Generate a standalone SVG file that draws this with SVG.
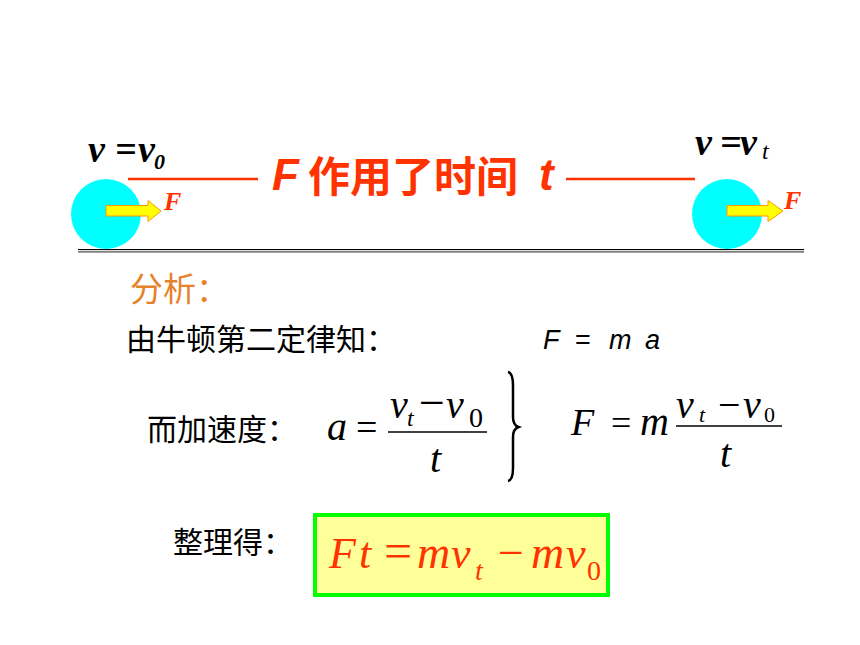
<svg xmlns="http://www.w3.org/2000/svg" width="860" height="645" viewBox="0 0 860 645">
<style>
.cjk{font-family:"Noto Sans CJK SC","Noto Sans CJK JP",sans-serif;fill:#000}
.math{font-family:"Liberation Serif","Times New Roman",serif;font-style:italic;fill:#000}
.rom{font-family:"Liberation Serif","Times New Roman",serif;font-style:normal}
.vlab{font-family:"Liberation Serif","Times New Roman",serif;font-style:italic;font-weight:bold;fill:#000}
.flab{font-family:"Liberation Serif","Times New Roman",serif;font-style:italic;font-weight:bold;fill:#ff3300;font-size:26px}
.ball{fill:#00ffff}
.arrow{fill:#ffff00;stroke:#ff9900;stroke-width:1}
.red{stroke:#ff3300;stroke-width:2.5}
.frac{stroke:#000;stroke-width:1.5}
</style>
<rect width="860" height="645" fill="#fff"/>

<g id="ground">
<line x1="78" y1="249.5" x2="804" y2="249.5" stroke="#000" stroke-width="1"/>
<line x1="78" y1="251.7" x2="804" y2="251.7" stroke="#808080" stroke-width="2"/>
</g>

<g id="ball-left">
<circle class="ball" cx="106" cy="214" r="35"/>
<path class="arrow" d="M106,205.5 H148 V200.5 L161,211 L148,221.5 V216 H106 Z"/>
<text class="flab" x="164" y="210">F</text>
<text class="vlab" x="88" y="162" font-size="38">v</text>
<text class="vlab" x="115" y="162" font-size="38">=</text>
<text class="vlab" x="138" y="162" font-size="38">v</text>
<text class="vlab" x="154" y="169" font-size="22">0</text>
</g>

<g id="ball-right">
<circle class="ball" cx="727" cy="214" r="35"/>
<path class="arrow" d="M727,205.5 H768 V200.5 L783,211 L768,221.5 V216 H727 Z"/>
<text class="flab" x="784" y="209">F</text>
<text class="vlab" x="695" y="155" font-size="38">v</text>
<text class="vlab" x="720" y="155" font-size="38">=</text>
<text class="vlab" x="740" y="155" font-size="38">v</text>
<text class="math" x="762" y="159" font-size="24">t</text>
</g>

<g id="connectors">
<line class="red" x1="128" y1="179" x2="258" y2="179"/>
<line class="red" x1="566" y1="179" x2="695" y2="179"/>
</g>

<g id="title" fill="#ff3300" font-weight="bold">
<text x="272" y="190" font-family="Liberation Sans,Arial,sans-serif" font-style="italic" font-size="44">F</text>
<text x="308" y="192" font-family="Noto Sans CJK SC,Noto Sans CJK JP,sans-serif" font-size="42">作用了时间</text>
<text x="539" y="190" font-family="Liberation Sans,Arial,sans-serif" font-style="italic" font-size="44">t</text>
</g>

<g id="analysis">
<text class="cjk" x="130" y="301" font-size="33" style="fill:#e6822a">分析：</text>
<text class="cjk" x="126" y="350" font-size="30">由牛顿第二定律知：</text>
<g font-family="Liberation Sans,Arial,sans-serif" font-style="italic" font-size="27" fill="#000">
<text x="543" y="349">F</text>
<text x="575" y="349" font-style="normal">=</text>
<text x="609" y="349">m</text>
<text x="645" y="349">a</text>
</g>
</g>

<g id="accel">
<text class="cjk" x="147" y="440" font-size="30">而加速度：</text>
<text class="math" x="327" y="440" font-size="40">a</text>
<text class="math rom" x="356" y="440" font-size="38">=</text>
<line class="frac" x1="388" y1="432" x2="487" y2="432"/>
<text class="math" x="390" y="418" font-size="40">v</text>
<text class="math" x="407" y="426" font-size="24">t</text>
<text class="math rom" x="419" y="418" font-size="46">−</text>
<text class="math" x="446" y="418" font-size="40">v</text>
<text class="math rom" x="469" y="427" font-size="28">0</text>
<text class="math" x="430" y="472" font-size="40">t</text>
<path d="M508,372 Q513,373 513,386 L513,417 Q513,425 518.5,427 Q513,429 513,437 L513,468 Q513,480 508,481" fill="none" stroke="#000" stroke-width="2.5"/>
</g>

<g id="newton">
<text class="math" x="571" y="435" font-size="38">F</text>
<text class="math rom" x="611" y="435" font-size="36">=</text>
<text class="math" x="640" y="435" font-size="40">m</text>
<line class="frac" x1="676" y1="426" x2="782" y2="426"/>
<text class="math" x="676" y="418" font-size="40">v</text>
<text class="math" x="699" y="422" font-size="22">t</text>
<text class="math rom" x="718" y="418" font-size="40">−</text>
<text class="math" x="743" y="418" font-size="40">v</text>
<text class="math rom" x="764" y="422" font-size="22">0</text>
<text class="math" x="720" y="467" font-size="40">t</text>
</g>

<g id="result">
<text class="cjk" x="173" y="553" font-size="30">整理得：</text>
<rect x="315" y="515" width="293" height="80" fill="#ffff99" stroke="#00ff00" stroke-width="4"/>
<g class="math" style="fill:#ff3300">
<text x="329" y="568" font-size="44">F</text>
<text x="359" y="568" font-size="44">t</text>
<text class="rom" x="384" y="568" font-size="50">=</text>
<text x="417" y="568" font-size="46">m</text>
<text x="451" y="568" font-size="44">v</text>
<text x="475" y="580" font-size="28">t</text>
<text class="rom" x="498" y="568" font-size="46">−</text>
<text x="531" y="568" font-size="46">m</text>
<text x="566" y="568" font-size="44">v</text>
<text class="rom" x="587" y="580" font-size="28">0</text>
</g>
</g>
</svg>
